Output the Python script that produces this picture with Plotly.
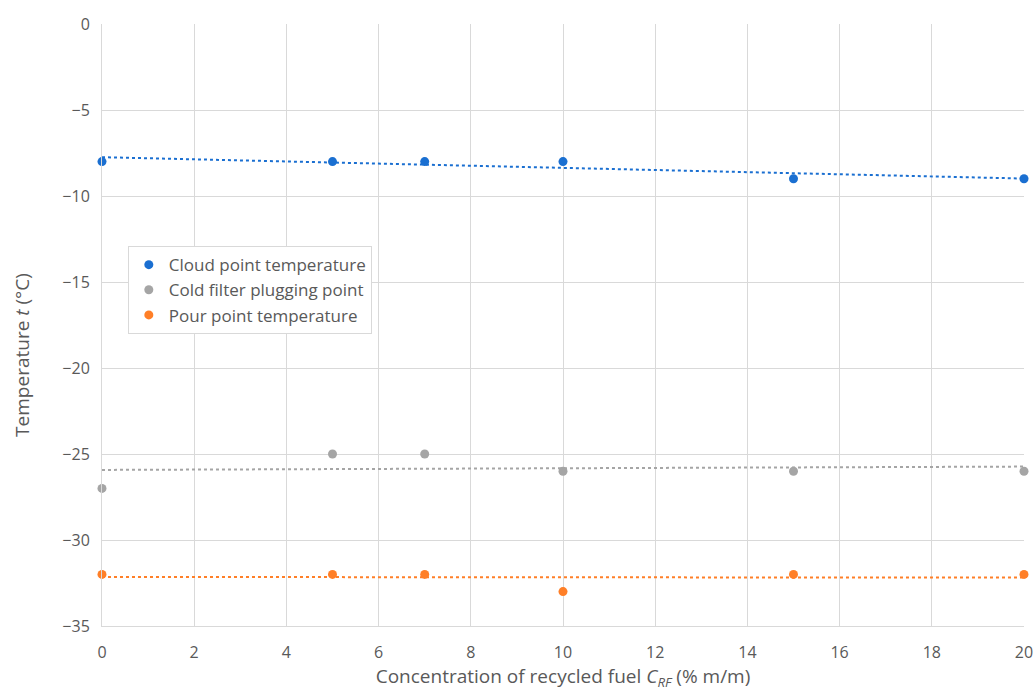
import numpy as np
import plotly.graph_objects as go

x_conc = [0, 5, 7, 10, 15, 20]
cloud_point = [-8, -8, -8, -8, -9, -9]
cfpp = [-27, -25, -25, -26, -26, -26]
pour_point = [-32, -32, -32, -33, -32, -32]

series = [
    ("Cloud point temperature", cloud_point, "#1a6fd1"),
    ("Cold filter plugging point", cfpp, "#a5a5a5"),
    ("Pour point temperature", pour_point, "#ff7f27"),
]

fig = go.Figure()
xs = np.array(x_conc, dtype=float)
for name, ys, col in series:
    m, b = np.polyfit(xs, np.array(ys, dtype=float), 1)
    fig.add_trace(go.Scatter(x=[0, 20], y=[b, m * 20 + b], mode="lines",
                             line=dict(color=col, width=2, dash="dot"),
                             showlegend=False, hoverinfo="skip", cliponaxis=False))
for name, ys, col in series:
    fig.add_trace(go.Scatter(x=x_conc, y=ys, mode="markers", name=name,
                             marker=dict(color=col, size=9), cliponaxis=False))

font_col = "#595959"
fig.update_layout(
    width=1036, height=691,
    margin=dict(l=102, r=12, t=24, b=65, autoexpand=False),
    paper_bgcolor="white", plot_bgcolor="white",
    font=dict(family="Open Sans, Liberation Sans, sans-serif", size=16, color=font_col),
    legend=dict(x=0.028, y=0.631, xanchor="left", yanchor="top",
                bordercolor="#d9d9d9", borderwidth=1, bgcolor="white",
                font=dict(size=17, color=font_col), itemwidth=30),
    xaxis=dict(range=[0, 20], dtick=2, showgrid=True, gridcolor="#d9d9d9",
               showline=True, linecolor="#d9d9d9", linewidth=1, zeroline=False,
               ticks="", tickfont=dict(size=16), ticklabelstandoff=12, automargin=False,
               title=dict(text="Concentration of recycled fuel <i>C</i><sub><i>RF</i></sub> (% m/m)",
                          font=dict(size=19), standoff=10)),
    yaxis=dict(range=[-35, 0], dtick=5, showgrid=True, gridcolor="#d9d9d9",
               showline=True, linecolor="#d9d9d9", linewidth=1, zeroline=False,
               ticks="", tickfont=dict(size=16), ticklabelstandoff=8, automargin=False),
    annotations=[dict(text="Temperature <i>t</i> (°C)", textangle=-90,
                      xref="paper", yref="paper", x=-0.087, y=0.45,
                      xanchor="center", yanchor="middle", showarrow=False,
                      font=dict(size=19, color=font_col))],
)
fig.write_html("out.html")
